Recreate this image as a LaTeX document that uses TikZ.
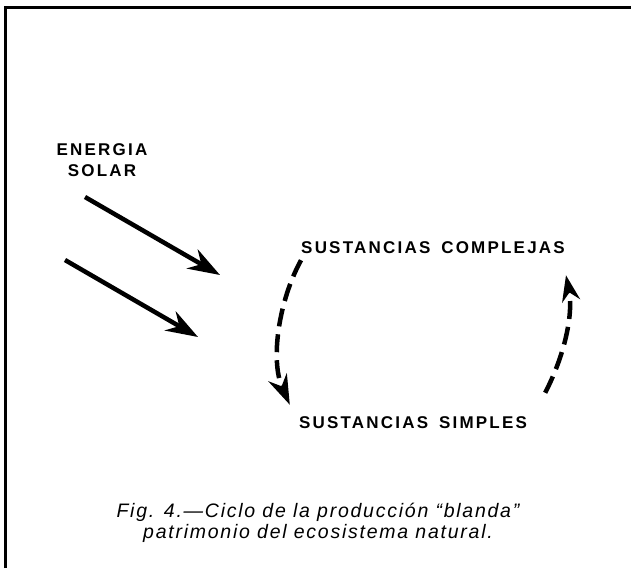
\documentclass[tikz,border=0pt]{standalone}
\usepackage{fontspec}
\setmainfont{Liberation Sans}
\newfontfamily\rotulo[LetterSpace=13]{Liberation Sans}
\newfontfamily\leyenda[LetterSpace=9]{Liberation Sans}
\usetikzlibrary{arrows.meta}

\tikzset{
  etiqueta/.style={font=\rotulo\bfseries\fontsize{17}{21}\selectfont, inner sep=0pt, align=center},
  pie/.style={font=\leyenda\itshape\fontsize{19.5}{21}\selectfont, inner sep=0pt, align=center},
  rayo/.style={line width=4.5pt, -{Stealth[length=32pt,width=22pt]}},
  ciclo/.style={line width=4.5pt, dash pattern=on 18pt off 8pt},
}

\begin{document}
\begin{tikzpicture}[x=1pt,y=-1pt]
    \useasboundingbox (0,0) rectangle (631,568);
    % marco
    \draw[line width=3pt] (5.5,568) -- (5.5,7) -- (631,7);

    % textos
    \node[etiqueta] (sol) at (102,160) {ENERGIA\\SOLAR};
    \node[etiqueta] (comp) at (433,248) {SUSTANCIAS\hspace{4pt} COMPLEJAS};
    \node[etiqueta] (simp) at (413,423) {SUSTANCIAS\hspace{4pt} SIMPLES};
    \node[pie, anchor=north] (pie) at (318,503) {Fig. 4.—Ciclo de la producción “blanda”\\patrimonio del ecosistema natural.};

    % rayos de sol
    \foreach \x/\y/\u/\v [count=\i] in {85/197/220/275, 65/260/198/337} {
        \coordinate (r\i a) at (\x,\y);
        \coordinate (r\i b) at (\u,\v);
        \draw[rayo] (r\i a) -- (r\i b);
    }

    % ciclo
    \draw[ciclo, -{Stealth[length=30pt,width=20pt]}] ([shift={(0,6)}]comp.south west) .. controls +(-22,40) and +(-20,-45) .. ([shift={(-9,-12)}]simp.north west);
    \draw[ciclo, -{Stealth[length=26pt,width=18pt]}] ([shift={(18,-24)}]simp.north east) .. controls +(22,-43) and +(7,35) .. ([shift={(1,21)}]comp.south east);
\end{tikzpicture}
\end{document}
